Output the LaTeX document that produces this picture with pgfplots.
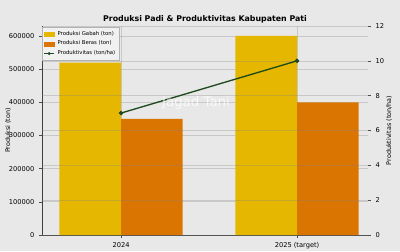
\documentclass[border=0pt]{standalone}
\usepackage{pgfplots}
\pgfplotsset{compat=1.18}
\usepackage{fontspec}
\setmainfont{DejaVu Sans}
\definecolor{bg}{HTML}{E8E8E8}
\definecolor{gabah}{HTML}{E5B700}
\definecolor{beras}{HTML}{D97500}
\definecolor{prod}{HTML}{1E4A1E}
\begin{document}
\begin{tikzpicture}[x=1pt,y=1pt]
\fill[bg] (0,0) rectangle (300,188.25);
\pgfplotsset{
  common/.style={
    at={(31.5pt,12pt)}, anchor=south west, scale only axis,
    width=244.5pt, height=156.75pt,
    xmin=-0.449, xmax=1.403,
    tick align=outside, major tick length=2.2pt,
    tick style={black!70, line width=0.4pt},
    ticklabel style={font=\fontsize{5}{5}\selectfont},
    /pgf/number format/assume math mode=true,
    major grid style={gray, opacity=0.3, line width=0.5pt},
  }
}
\begin{axis}[common,
  ymin=0, ymax=630000,
  axis x line*=bottom, axis y line*=left,
  axis line style={black!75, line width=0.6pt},
  xtick={0,1}, xticklabels={2024, 2025 (target)},
  ytick={0,100000,...,600000},
  scaled y ticks=false,
  yticklabel style={/pgf/number format/fixed, /pgf/number format/1000 sep={}},
  ymajorgrids, xmajorgrids,
  ylabel={Produksi (ton)},
  every axis y label/.style={at={(axis description cs:0,0.5)}, xshift=-25.5pt, rotate=90, anchor=center, font=\fontsize{4.8}{5}\selectfont},
  title={\bfseries Produksi Padi \& Produktivitas Kabupaten Pati},
  every axis title/.style={font=\fontsize{5.9}{6}\selectfont, at={(axis description cs:0.5,1)}, anchor=center, yshift=4.8pt},
  legend style={at={(axis description cs:0.0,0.995)}, anchor=north west,
    font=\fontsize{4}{4}\selectfont, fill=bg!60!white, draw=gray!60,
    inner sep=0.9pt, row sep=-1.3pt, cells={anchor=west}},
]
\addplot[ybar, bar width=0.35, fill=gabah, draw=none, forget plot] coordinates {(-0.175,520000) (0.825,600000)};
\addplot[ybar, bar width=0.35, fill=beras, draw=none, forget plot] coordinates {(0.175,350000) (1.175,400000)};
\addlegendimage{legend image code/.code={\fill[gabah] (0cm,-0.053cm) rectangle (0.27cm,0.053cm);}}
\addlegendentry{Produksi Gabah (ton)}
\addlegendimage{legend image code/.code={\fill[beras] (0cm,-0.053cm) rectangle (0.27cm,0.053cm);}}
\addlegendentry{Produksi Beras (ton)}
\addlegendimage{legend image code/.code={\draw[prod, line width=0.9pt] (0cm,0cm) -- (0.27cm,0cm); \fill[prod] (0.135cm,0cm) circle (0.9pt);}}
\addlegendentry{Produktivitas (ton/ha)}
\end{axis}
\begin{axis}[common,
  ymin=0, ymax=12,
  axis x line=none, axis y line*=right,
  y axis line style={draw=none},
  ytick={0,2,...,12},
  ymajorgrids,
  ylabel={Produktivitas (ton/ha)},
  every axis y label/.style={at={(axis description cs:1,0.5)}, xshift=15.75pt, rotate=90, anchor=center, font=\fontsize{4.8}{5}\selectfont},
]
\addplot[prod, line width=1pt, mark=*, mark size=1.1pt] coordinates {(0,7) (1,10)};
\end{axis}
\node[text=white, opacity=0.75, font=\fontsize{10}{10}\selectfont] at (147,111) {Jagad Tani};
\pgfresetboundingbox
\useasboundingbox (0,0) rectangle (300,188.25);
\end{tikzpicture}
\end{document}
